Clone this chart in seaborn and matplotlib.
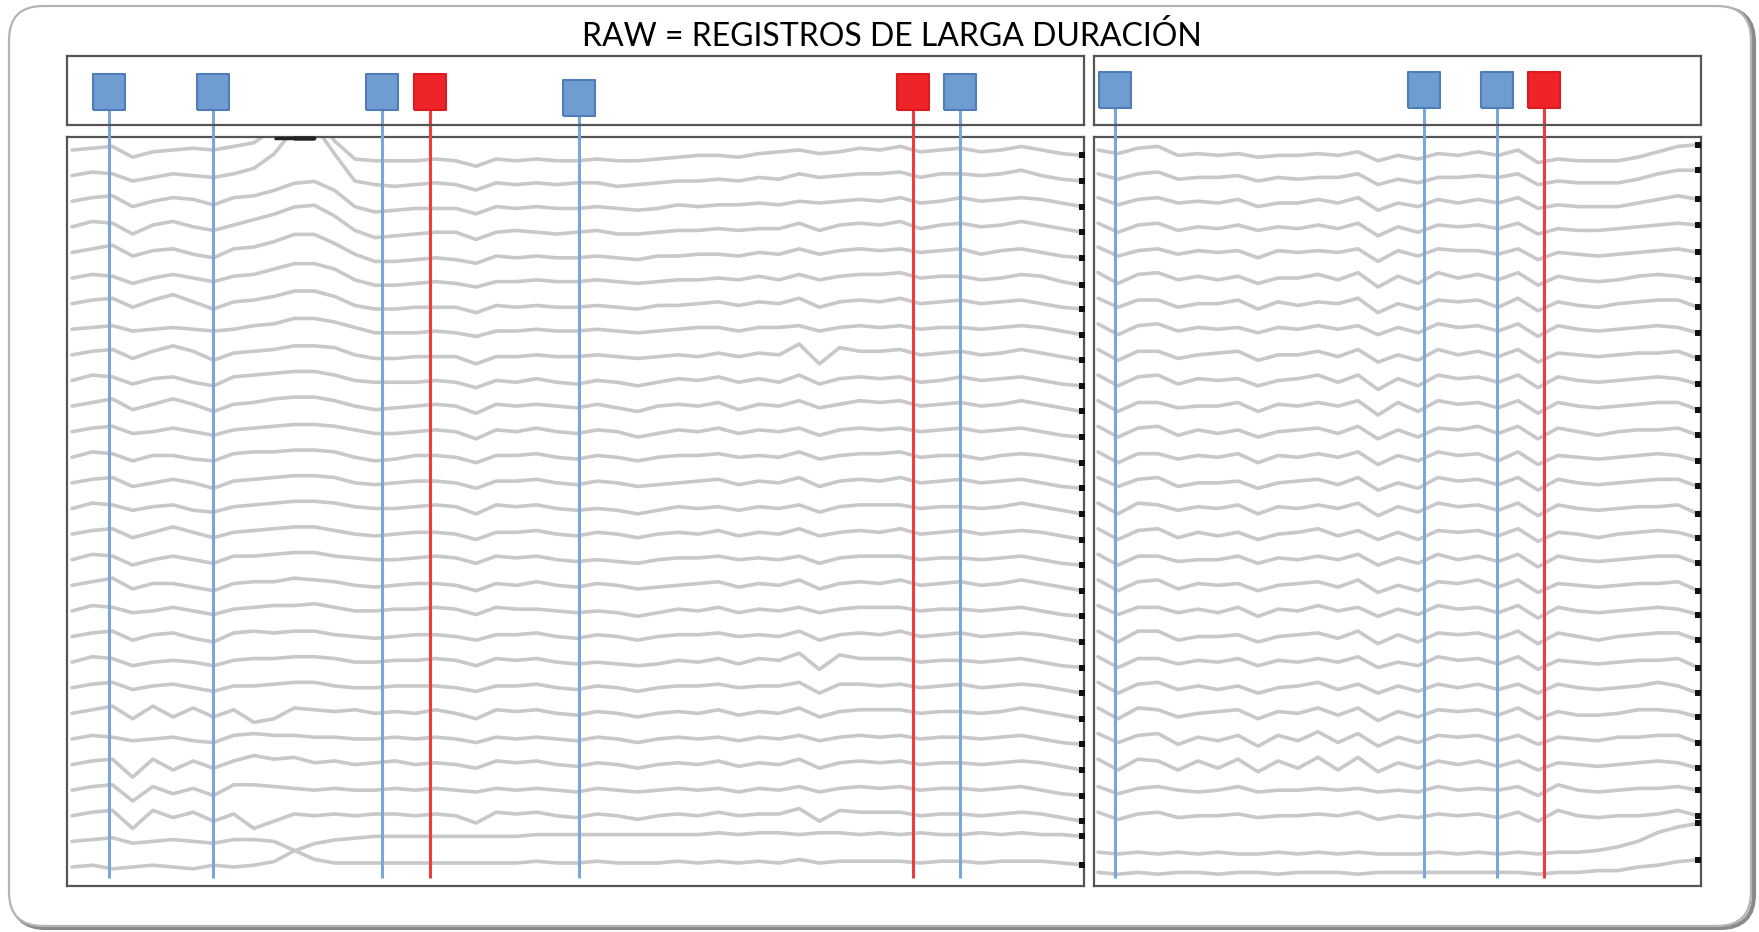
import numpy as np
import pandas as pd
import matplotlib
matplotlib.use("Agg")
import matplotlib.pyplot as plt
import seaborn as sns
from matplotlib.patches import FancyBboxPatch

# ------------------------------------------------------------------
# Data: 29 channels per panel, amplitude per sample (µV-like units)
# ------------------------------------------------------------------
title = "RAW = REGISTROS DE LARGA DURACIÓN"

sample_step_s = 0.6  # seconds between samples in both panels

left_traces = [
    [0, 1, 2, -4, -1, 0, 1, 0, 2, 4, 12, 22, 20, 5, -5, -6, -6, -6, -5, -6, -9, -5, -6, -5, -6, -6, -5, -6, -6, -5, -4, -3, -3, -4, -2, -1, 0, -2, -1, 1, 0, 2, -1, 0, 1, -1, 0, 2, 0, -2, -3],
    [0, 2, 1, -3, -1, 1, 0, -1, 1, 4, 12, 26, 28, 12, -3, -5, -6, -5, -4, -5, -8, -4, -5, -4, -5, -4, -4, -6, -5, -4, -3, -3, -2, -3, -1, -2, 1, -1, 0, 1, 1, 2, -1, 1, 1, 0, 1, 3, 0, -2, -3],
    [0, 2, 3, -3, 0, 2, 1, -2, 2, 3, 6, 10, 11, 6, -3, -6, -5, -4, -4, -4, -7, -3, -4, -3, -4, -4, -3, -4, -5, -4, -2, -3, -2, -2, -1, -2, 0, -1, 0, 1, 0, 2, -1, 0, 2, 0, 1, 2, 1, -1, -3],
    [0, 3, 2, -4, 1, 3, 0, -2, 1, 4, 7, 11, 12, 6, -2, -6, -5, -4, -3, -3, -7, -3, -2, -3, -4, -3, -2, -4, -4, -3, -2, -2, -1, -2, -1, -1, 2, -2, 1, 2, 1, 3, -1, 1, 2, 0, 1, 3, 1, -1, -3],
    [0, 2, 4, -2, 1, 2, -1, -3, 2, 3, 6, 10, 10, 5, -1, -5, -5, -4, -3, -4, -6, -2, -3, -2, -3, -3, -2, -3, -4, -2, -2, -1, -1, -2, 0, -1, 2, -1, 1, 2, 1, 2, 0, 1, 2, -1, 1, 2, 0, -2, -3],
    [0, 2, 1, -3, 0, 2, 0, -2, 1, 2, 5, 8, 8, 5, -1, -4, -4, -3, -2, -3, -5, -2, -2, -1, -2, -2, -1, -2, -3, -2, -1, -1, 0, -1, 1, -1, 2, -1, 1, 2, 2, 3, 0, 1, 1, -1, 0, 2, 1, -2, -4],
    [0, 2, 3, -2, 2, 5, 1, -3, 1, 2, 4, 7, 7, 4, -1, -3, -3, -2, -2, -2, -5, -1, -2, -1, -2, -2, -1, -2, -3, -1, -1, 0, 1, -1, 1, 0, 3, -2, 1, 2, 1, 3, 0, 1, 2, 0, 1, 2, 0, -2, -3],
    [0, 1, 2, -1, 0, 1, 0, -1, 0, 2, 3, 6, 6, 4, 1, -2, -2, -2, -1, -2, -4, -1, -1, 0, -1, -1, 0, -1, -2, -1, 0, 1, 1, -1, 1, 1, 2, -1, 1, 2, 1, 2, 0, 1, 1, 0, 1, 2, 1, -1, -3],
    [0, 2, 3, -2, 2, 5, 2, -3, 1, 2, 3, 5, 5, 4, 0, -2, -2, -1, -1, -1, -5, -1, -1, 0, -1, -1, 0, -1, -2, -1, 0, -1, 1, -1, 1, 0, 6, -5, 4, 2, 2, 3, 0, 1, 2, 0, 1, 3, 1, -1, -3],
    [0, 3, 2, -2, 1, 2, -1, -3, 2, 3, 4, 5, 5, 3, 0, -1, -1, -1, 0, -1, -4, 0, -1, 1, -1, -2, 0, -1, -3, -1, 1, 0, 2, -1, 1, -1, 3, -2, 1, 2, 1, 2, -1, 0, 2, 0, 1, 2, 0, -2, -3],
    [0, 2, 4, -2, 1, 4, 1, -3, 1, 2, 4, 5, 5, 3, 0, -2, -1, 0, 1, 0, -4, 1, 0, 1, 0, -1, 1, -1, -3, 0, 1, 0, 2, -2, 1, 0, 3, -1, 1, 3, 2, 3, 0, 1, 2, 0, 1, 3, 1, -1, -3],
    [0, 2, 3, -1, 0, 2, 0, -2, 1, 2, 3, 4, 4, 3, 1, -1, -1, 0, 1, 0, -4, 1, 0, 2, 0, -1, 1, 0, -3, -1, 1, 0, 2, -1, 1, 0, 2, -2, 1, 2, 1, 2, 0, 1, 2, 0, 1, 2, 0, -2, -3],
    [0, 3, 2, -2, 1, 1, -1, -2, 2, 3, 3, 4, 4, 3, 0, -2, -1, 1, 1, 0, -3, 1, 1, 2, 0, -1, 1, 0, -2, 0, 1, 1, 2, 0, 1, 0, 3, -1, 1, 2, 2, 3, 0, 1, 1, -1, 1, 2, 1, -1, -3],
    [0, 2, 3, -2, 0, 2, 0, -3, 1, 2, 3, 4, 4, 3, 0, -1, 0, 1, 1, 0, -3, 1, 1, 2, 0, -1, 1, 0, -2, -1, 0, 1, 2, -1, 1, 0, 3, -2, 1, 2, 1, 3, 0, 1, 2, 0, 1, 2, 0, -2, -3],
    [0, 3, 2, -1, 1, 2, -1, -2, 1, 2, 3, 4, 4, 3, 1, 0, 0, 1, 2, 1, -3, 2, 1, 2, 0, -1, 0, -1, -3, -1, 1, 0, 1, -1, 1, 0, 2, -2, 1, 2, 2, 2, 0, 1, 1, 0, 1, 3, 1, -1, -3],
    [0, 2, 3, -2, 1, 4, 1, -2, 1, 2, 3, 4, 4, 2, 0, -1, 0, 1, 1, 0, -3, 1, 1, 2, 0, -1, 1, 0, -2, 0, 1, 0, 2, -1, 1, 0, 3, -1, 1, 2, 1, 3, 0, 1, 2, 0, 1, 2, 1, -1, -3],
    [0, 3, 2, -3, 0, 2, 0, -2, 2, 2, 3, 4, 4, 2, 1, 0, 0, 1, 2, 1, -2, 2, 1, 2, 0, -1, 0, -1, -2, 0, 1, 1, 2, 0, 1, 0, 2, -2, 1, 2, 2, 2, 0, 1, 1, 0, 1, 2, 0, -2, -3],
    [0, 2, 4, -2, 1, 1, -1, -3, 1, 2, 2, 4, 3, 2, 0, -1, 0, 1, 1, 0, -3, 1, 0, 2, 0, -1, 1, 0, -2, -1, 0, 1, 2, -1, 1, 0, 3, -2, 1, 2, 1, 3, 0, 1, 2, 0, 1, 3, 1, -1, -3],
    [0, 3, 2, -1, 0, 2, 0, -2, 1, 2, 3, 3, 4, 2, 0, 0, 1, 1, 2, 1, -2, 2, 1, 1, 0, -1, 0, -1, -3, -1, 1, 0, 2, -1, 1, 0, 2, -1, 1, 2, 2, 2, 0, 1, 1, 0, 1, 2, 0, -2, -3],
    [0, 2, 3, -2, 1, 2, -1, -3, 2, 3, 2, 3, 3, 1, 0, -1, 0, 1, 1, 0, -2, 1, 1, 2, 0, -1, 1, 0, -2, 0, 1, 1, 2, 0, 1, 0, 3, -2, 1, 2, 1, 3, 0, 1, 2, 0, 1, 2, 1, -1, -3],
    [0, 3, 2, -2, 0, 1, 0, -2, 1, 2, 2, 3, 3, 2, 0, 0, 1, 1, 2, 1, -2, 2, 1, 2, 0, -1, 0, -1, -2, -1, 1, 0, 2, -1, 2, 1, 5, -4, 4, 2, 2, 2, 0, 1, 1, 0, 1, 2, 0, -2, -3],
    [0, 2, 3, -1, 1, 2, 0, -2, 1, 1, 2, 3, 3, 1, 0, 0, 1, 1, 1, 0, -2, 1, 1, 2, 0, -1, 1, 0, -2, 0, 1, 1, 2, 0, 1, 1, 3, -3, 2, 2, 1, 2, 0, 1, 2, 0, 1, 2, 1, -1, -3],
    [0, 2, 4, -3, 4, -2, 3, -2, 2, -5, -3, 3, 2, 1, 2, 0, 1, 0, 2, 0, -3, 2, 1, 2, 0, -1, 1, 0, -2, 0, 1, 0, 2, -1, 1, 0, 3, -2, 1, 2, 2, 2, 0, 1, 1, 0, 1, 3, 1, -1, -3],
    [0, 2, 1, -1, 0, 1, -1, -2, 2, 3, 2, 2, 1, 1, 0, 0, 1, 0, 1, 0, -2, 1, 0, 1, 0, -1, 1, 0, -2, 0, 1, 0, 1, -1, 1, 0, 2, -1, 1, 2, 1, 2, 0, 1, 1, 0, 1, 2, 0, -2, -3],
    [0, 2, 3, -7, 3, -3, 2, -2, 2, 5, 3, 4, 1, 2, 0, 1, 2, 0, 1, 0, -2, 2, 1, 2, 0, -1, 1, 0, -2, 0, 1, 0, 2, -1, 1, 0, 3, -2, 1, 2, 1, 2, 0, 1, 1, 0, 1, 2, 1, -1, -3],
    [0, 2, 3, -6, 2, -2, 1, -3, 3, 3, 2, 1, 0, 1, 0, 0, 1, 0, 1, 0, -1, 1, 0, 1, 0, -1, 1, 0, -1, 0, 1, 0, 1, -1, 1, 0, 2, -1, 1, 2, 1, 2, 0, 1, 1, 0, 1, 2, 0, -2, -3],
    [0, 2, 3, -7, 3, -1, 2, -3, 1, -7, -3, 1, 0, 1, 0, 1, 1, 0, 1, 0, -4, 2, 1, 2, 0, -1, 1, 0, -2, 0, 1, 0, 2, 0, 1, 1, 4, -3, 3, 2, 2, 2, 0, 1, 1, 0, 1, 2, 1, -1, -3],
    [0, 1, 2, -1, 0, 1, 0, -1, 1, 1, 0, -5, -10, -12, -12, -12, -12, -12, -12, -12, -12, -12, -12, -11, -12, -12, -11, -12, -12, -12, -11, -12, -11, -12, -11, -12, -10, -12, -11, -11, -11, -11, -12, -11, -11, -12, -11, -11, -11, -12, -13],
    [0, 1, -1, 0, 1, 0, -1, 1, 0, 1, 3, 9, 13, 15, 16, 17, 17, 17, 17, 17, 17, 17, 17, 18, 18, 18, 18, 18, 18, 18, 18, 18, 19, 18, 19, 19, 18, 19, 19, 18, 19, 18, 19, 18, 18, 19, 18, 19, 18, 18, 17],
]

right_traces = [
    [0, -2, 1, 2, -3, -2, -3, -2, -4, -3, -3, -2, -3, -1, -6, -3, -5, -2, -3, -1, -3, 0, -7, -5, -6, -6, -6, -4, -1, 2, 3],
    [1, -2, 1, 2, -2, -1, -1, 0, -3, -1, -2, -1, -1, 1, -5, -2, -4, -1, -1, 0, -1, 1, -5, -3, -4, -4, -4, -2, 1, 3, 3],
    [2, -2, 1, 2, -1, 0, -1, 1, -3, -1, -1, 1, -1, 2, -5, -1, -3, 1, -1, 1, -1, 2, -4, -2, -3, -3, -3, -1, 1, 3, 1],
    [2, -3, 1, 2, -2, 0, -1, 1, -2, 0, -1, 1, -1, 2, -5, 0, -3, 1, 0, 1, -1, 2, -4, -1, -2, -2, -1, 0, 1, 2, 1],
    [3, -2, 1, 2, -1, 1, 0, 1, -3, 1, 0, 1, 0, 2, -5, 1, -2, 2, 1, 1, -1, 2, -4, 0, -1, -2, -1, 0, 1, 2, 0],
    [3, -3, 2, 3, -1, 1, -1, 1, -3, 0, 0, 2, -1, 3, -5, 1, -3, 3, 0, 2, -1, 3, -4, 1, -1, -2, -1, 1, 2, 1, -1],
    [3, -2, 2, 2, -2, 0, 0, 2, -3, 1, -1, 1, 0, 3, -5, 0, -3, 2, 1, 2, -2, 3, -4, 1, -1, -2, 0, 1, 2, 2, -2],
    [3, -3, 2, 3, -1, 1, 0, 1, -2, 1, 0, 2, 0, 2, -3, 1, -2, 3, 1, 2, -1, 3, -4, 2, 0, -1, 0, 1, 2, 1, -2],
    [3, -3, 2, 2, -2, 0, 1, 2, -3, 0, 0, 2, -1, 3, -4, 0, -3, 3, 0, 2, -1, 3, -4, 1, 0, -1, 0, 1, 1, 2, -2],
    [3, -3, 2, 3, -2, 1, 0, 1, -3, 0, 1, 3, -1, 3, -5, 1, -3, 3, 1, 2, -1, 3, -4, 2, 0, -1, 0, 1, 2, 1, -2],
    [3, -3, 2, 2, -1, 0, 0, 2, -3, 1, 0, 2, 0, 3, -5, 2, -3, 3, 1, 2, -1, 3, -4, 2, 0, -1, 0, 1, 2, 2, -2],
    [3, -3, 2, 3, -2, 1, -1, 1, -3, 0, 1, 2, -1, 3, -4, 1, -3, 2, 1, 3, -1, 3, -4, 2, 0, -2, 0, 1, 1, 2, -2],
    [3, -3, 2, 2, -1, 1, 0, 2, -3, 1, 0, 2, 0, 3, -4, 1, -2, 3, 1, 2, -2, 3, -4, 1, 0, -1, 0, 1, 2, 1, -2],
    [3, -2, 2, 3, -2, 0, 0, 1, -3, 0, 1, 2, -1, 3, -4, 0, -3, 3, 1, 2, -1, 3, -4, 2, 0, -1, 0, 1, 2, 2, -2],
    [3, -3, 3, 2, -1, 1, 0, 2, -3, 1, 0, 2, 0, 3, -4, 1, -2, 3, 1, 2, -1, 3, -4, 2, 0, -1, 0, 1, 1, 2, -3],
    [3, -3, 2, 3, -2, 1, -1, 1, -3, 0, 1, 3, -1, 2, -3, 1, -3, 2, 1, 2, -1, 3, -4, 1, 0, -2, 0, 1, 2, 1, -2],
    [3, -3, 2, 2, -1, 0, 0, 2, -2, 1, 0, 2, 0, 3, -3, 1, -2, 3, 0, 2, -1, 3, -4, 2, 0, -1, 0, 1, 2, 2, -2],
    [3, -3, 2, 3, -2, 1, 0, 1, -3, 0, 1, 2, -1, 3, -4, 0, -3, 2, 1, 3, -1, 3, -4, 1, 0, -1, 0, 1, 1, 2, -3],
    [3, -2, 2, 2, -1, 1, -1, 2, -3, 1, 0, 3, 0, 2, -3, 1, -2, 3, 1, 2, -1, 3, -4, 2, 0, -1, 0, 1, 2, 1, -2],
    [3, -3, 3, 3, -2, 0, 0, 1, -3, 0, 1, 2, -1, 3, -4, 1, -3, 2, 1, 2, -1, 3, -4, 2, 0, -2, 0, 1, 2, 2, -2],
    [3, -3, 2, 2, -1, 1, 0, 2, -2, 1, 0, 2, 0, 3, -3, 0, -2, 3, 1, 2, -1, 3, -4, 1, 0, -1, 0, 1, 1, 2, -3],
    [3, -3, 2, 3, -1, 1, -1, 1, -3, 0, 1, 3, -1, 2, -3, 1, -2, 2, 0, 2, -1, 2, -3, 2, 0, -1, 0, 1, 3, 1, -3],
    [3, -3, 3, 2, -2, 0, 1, 2, -3, 1, 0, 3, -1, 3, -4, 1, -2, 2, 1, 2, -1, 3, -3, 1, -1, -1, 0, 2, 2, 1, -2],
    [3, -2, 2, 3, -3, 1, -1, 2, -4, 2, -1, 4, -2, 3, -4, 1, -2, 2, 1, 2, -1, 2, -3, 1, 0, -1, 1, 1, 2, 2, -2],
    [3, -3, 3, 2, -3, 2, -2, 3, -4, 2, -2, 4, -3, 4, -4, 1, -2, 2, 0, 2, -1, 2, -3, 1, 0, -1, 0, 1, 2, 1, -2],
    [2, -2, 1, 2, 0, -1, 0, 2, -1, 0, 0, 1, 0, 1, -1, 0, -1, 2, 0, 1, 0, 2, -3, 3, 0, -1, 0, 1, 1, 2, 0],
    [2, -2, 1, 2, -1, 0, 0, 1, -1, 0, 0, 1, 0, 2, -2, 0, -1, 1, 0, 1, -1, 2, -3, 3, 0, -1, 0, 0, 1, 3, 0],
    [-6, -7, -6, -7, -6, -7, -6, -7, -7, -6, -7, -6, -7, -6, -7, -7, -7, -6, -7, -6, -7, -6, -7, -6, -6, -5, -3, 0, 5, 8, 10],
    [-3, -4, -3, -4, -3, -3, -4, -3, -3, -4, -3, -3, -3, -4, -3, -3, -3, -3, -3, -3, -3, -3, -4, -3, -3, -2, -2, 0, 1, 3, 4],
]

# Event markers (time in seconds from the start of each panel)
left_event_t = [1.09, 4.19, 9.22, 10.62, 15.05, 24.98, 26.38]
left_event_kind = ["blue", "blue", "blue", "red", "blue", "red", "blue"]
right_event_t = [0.51, 9.77, 11.96, 13.37]
right_event_kind = ["blue", "blue", "blue", "red"]

# ------------------------------------------------------------------
# Styling / layout
# ------------------------------------------------------------------
W, H = 1759, 932
CH_GAP = 25.6        # vertical distance between channels (display units)
GAIN = 1.8           # display sensitivity: display units per amplitude unit
TRACE_COLOR = "#c8c8c8"
FRAME_COLOR = "#555555"
EVENT_FACE = {"blue": "#6f9dd2", "red": "#ee2428"}
EVENT_EDGE = {"blue": "#4f7db8", "red": "#d81c20"}
EVENT_LINE = {"blue": "#7aa7da", "red": "#f03c3c"}

sns.set_theme(style="white")
plt.rcParams["font.family"] = ["Lato", "DejaVu Sans"]
plt.rcParams["lines.solid_joinstyle"] = "round"
plt.rcParams["lines.solid_capstyle"] = "round"


def px_rect(x0, y0, x1, y1):
    return [x0 / W, 1 - y1 / H, (x1 - x0) / W, (y1 - y0) / H]


def long_frame(traces):
    rows = []
    for ch, vals in enumerate(traces):
        for k, v in enumerate(vals):
            rows.append({"canal": ch, "t": k * sample_step_s, "y": -ch * CH_GAP + GAIN * v})
    return pd.DataFrame(rows)


fig = plt.figure(figsize=(W / 100, H / 100), dpi=100)

# rounded slide frame with a soft shadow on the right side
bg = fig.add_axes([0, 0, 1, 1])
bg.set_xlim(0, W)
bg.set_ylim(H, 0)
bg.axis("off")
bg.add_patch(FancyBboxPatch((12, 8), 1742, 920, boxstyle="round,pad=0,rounding_size=34",
                            facecolor="none", edgecolor="#8a8a8a", lw=3.0, zorder=1))
bg.add_patch(FancyBboxPatch((9, 6), 1742, 920, boxstyle="round,pad=0,rounding_size=34",
                            facecolor="white", edgecolor="#b4b4b4", lw=1.6, zorder=2))

fig.text(892 / W, 1 - 36 / H, title, ha="center", va="center", fontsize=23, color="black")

panels = [
    dict(traces=left_traces, ev_t=left_event_t, ev_k=left_event_kind,
         box=(67, 56, 1084, 125), area=(67, 137, 1084, 886),
         xlim=(-0.15, 30.06), marker_y=[0.48, 0.48, 0.48, 0.48, 0.385, 0.48, 0.48]),
    dict(traces=right_traces, ev_t=right_event_t, ev_k=right_event_kind,
         box=(1094, 56, 1701, 125), area=(1094, 137, 1701, 886),
         xlim=(-0.12, 18.09), marker_y=[0.51, 0.51, 0.51, 0.51]),
]

n_ch = len(left_traces)
ylim = (-(n_ch - 1) * CH_GAP - 19, 13)
rect_marker = [(-0.46, -0.5), (0.46, -0.5), (0.46, 0.5), (-0.46, 0.5), (-0.46, -0.5)]

for p in panels:
    ax = fig.add_axes(px_rect(*p["area"]))
    top = fig.add_axes(px_rect(*p["box"]), sharex=ax)

    df = long_frame(p["traces"])
    sns.lineplot(data=df, x="t", y="y", units="canal", estimator=None, sort=False,
                 color=TRACE_COLOR, lw=2.6, ax=ax, legend=False)

    # clipped excursions shown as dark dashes on the upper border
    over = df[df["y"] > ylim[1]]
    if len(over):
        ax.plot(over["t"], np.full(len(over), ylim[1] - 0.5), color="#222222",
                lw=2.5, solid_capstyle="butt", clip_on=False, zorder=4)

    # end-of-trace ticks along the right border
    ends = df.groupby("canal").tail(1)
    sns.scatterplot(data=ends, x="t", y="y", color="#111111", marker="s", s=16,
                    linewidth=0, ax=ax, legend=False, clip_on=False, zorder=5)

    ax.set_xlim(*p["xlim"])
    ax.set_ylim(*ylim)

    top.set_ylim(0, 1)
    for t_ev, kind, my in zip(p["ev_t"], p["ev_k"], p["marker_y"]):
        ax.axvline(t_ev, ymin=0.0107, ymax=1.0, color=EVENT_LINE[kind], lw=2.2,
                   solid_capstyle="butt", zorder=3)
        top.axvline(t_ev, ymin=-0.2, ymax=my, color=EVENT_LINE[kind], lw=2.2,
                    solid_capstyle="butt", clip_on=False, zorder=2)
        sns.scatterplot(x=[t_ev], y=[my], marker=rect_marker, s=640,
                        color=EVENT_FACE[kind], edgecolor=EVENT_EDGE[kind], linewidth=1.5,
                        ax=top, legend=False, zorder=3)

    for a in (ax, top):
        a.set_xlabel("")
        a.set_ylabel("")
        a.set_xticks([])
        a.set_yticks([])
        a.set_facecolor("white")
        for s in a.spines.values():
            s.set_visible(True)
            s.set_color(FRAME_COLOR)
            s.set_linewidth(1.6)
    top.set_xlim(*p["xlim"])

fig.savefig("out.png", dpi=100)
